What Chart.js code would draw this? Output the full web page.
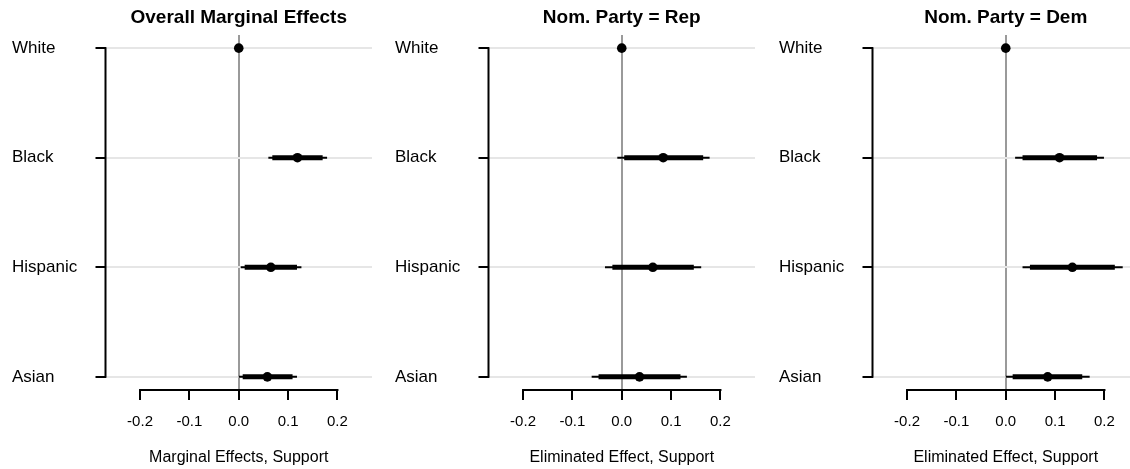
<!DOCTYPE html>
<html lang="en">
<head>
    <meta charset="UTF-8">
    <title>Marginal Effects by Race</title>
    <script src="https://cdn.jsdelivr.net/npm/chart.js"></script>
    <style>
        html, body { margin: 0; padding: 0; background: #fff; overflow: hidden; }
        body { width: 1130px; height: 469px; position: relative; }
        .panel { position: absolute; top: 0; width: 384px; height: 469px; }
    </style>
</head>
<body>
    <div class="panel" style="left:0px"><canvas id="c0"></canvas></div>
    <div class="panel" style="left:383px"><canvas id="c1"></canvas></div>
    <div class="panel" style="left:767px"><canvas id="c2"></canvas></div>

    <script>
        // row labels, top to bottom
        const rows = ['White', 'Black', 'Hispanic', 'Asian'];
        const titles = ['Overall Marginal Effects', 'Nom. Party = Rep', 'Nom. Party = Dem'];
        const xTitles = ['Marginal Effects, Support', 'Eliminated Effect, Support', 'Eliminated Effect, Support'];
        const xTicks = [-0.2, -0.1, 0.0, 0.1, 0.2];

        // point estimates (White is the baseline)
        const est = [
            [0, 0.119, 0.065, 0.058],
            [0, 0.084, 0.063, 0.036],
            [0, 0.109, 0.135, 0.085]
        ];
        // thick interval
        const innerLo = [
            [null, 0.068, 0.012, 0.008],
            [null, 0.005, -0.019, -0.047],
            [null, 0.034, 0.049, 0.014]
        ];
        const innerHi = [
            [null, 0.170, 0.118, 0.109],
            [null, 0.165, 0.146, 0.119],
            [null, 0.185, 0.221, 0.155]
        ];
        // thin interval
        const outerLo = [
            [null, 0.060, 0.004, 0.000],
            [null, -0.009, -0.034, -0.061],
            [null, 0.019, 0.034, 0.000]
        ];
        const outerHi = [
            [null, 0.179, 0.127, 0.118],
            [null, 0.178, 0.161, 0.132],
            [null, 0.199, 0.237, 0.170]
        ];

        const font = '"Liberation Sans", Arial, Helvetica, sans-serif';

        // R-style axis lines that only span the ticks, plus the panel title
        const rAxes = {
            id: 'rAxes',
            afterDraw(chart, args, opts) {
                const ctx = chart.ctx;
                const x = chart.scales.x, y = chart.scales.y;
                const area = chart.chartArea;
                ctx.save();
                ctx.strokeStyle = '#000';
                ctx.lineWidth = 2;
                ctx.beginPath();
                ctx.moveTo(x.getPixelForValue(xTicks[0]) - 1, area.bottom);
                ctx.lineTo(x.getPixelForValue(xTicks[xTicks.length - 1]) + 1, area.bottom);
                ctx.moveTo(area.left, y.getPixelForValue(1) - 1);
                ctx.lineTo(area.left, y.getPixelForValue(rows.length) + 1);
                ctx.stroke();
                ctx.fillStyle = '#000';
                ctx.font = 'bold 19px ' + font;
                ctx.textAlign = 'center';
                ctx.textBaseline = 'alphabetic';
                ctx.fillText(opts.text, (area.left + area.right) / 2, 23);
                ctx.restore();
            }
        };

        function makePanel(i) {
            const datasets = [];
            for (let r = 0; r < rows.length; r++) {
                if (outerLo[i][r] === null) continue;
                datasets.push({
                    type: 'line',
                    data: [{x: outerLo[i][r], y: r + 1}, {x: outerHi[i][r], y: r + 1}],
                    borderColor: '#000',
                    borderWidth: 2,
                    borderCapStyle: 'butt',
                    pointRadius: 0
                });
            }
            for (let r = 0; r < rows.length; r++) {
                if (innerLo[i][r] === null) continue;
                datasets.push({
                    type: 'line',
                    data: [{x: innerLo[i][r], y: r + 1}, {x: innerHi[i][r], y: r + 1}],
                    borderColor: '#000',
                    borderWidth: 5,
                    borderCapStyle: 'butt',
                    pointRadius: 0
                });
            }
            datasets.push({
                type: 'scatter',
                data: est[i].map((v, r) => ({x: v, y: r + 1})),
                backgroundColor: '#000',
                borderWidth: 0,
                pointRadius: 4.8
            });

            new Chart(document.getElementById('c' + i), {
                data: { datasets: datasets },
                plugins: [rAxes],
                options: {
                    responsive: true,
                    maintainAspectRatio: false,
                    animation: false,
                    layout: { padding: { left: 12, right: 12, top: 35, bottom: 0 } },
                    plugins: {
                        legend: { display: false },
                        tooltip: { enabled: false },
                        rAxes: { text: titles[i] }
                    },
                    scales: {
                        x: {
                            type: 'linear',
                            min: -0.27,
                            max: 0.27,
                            afterBuildTicks: (s) => { s.ticks = xTicks.map(v => ({value: v})); },
                            afterFit: (s) => { s.height = 79; },
                            border: { display: false },
                            grid: {
                                drawOnChartArea: true,
                                color: (c) => (c.tick && Math.abs(c.tick.value) < 1e-9) ? '#9a9a9a' : 'rgba(0,0,0,0)',
                                lineWidth: 2,
                                tickColor: '#000',
                                tickWidth: 2,
                                tickLength: 10
                            },
                            ticks: {
                                color: '#000',
                                font: { family: font, size: 15 },
                                padding: 13,
                                maxRotation: 0,
                                callback: (v) => Number(v).toFixed(1)
                            },
                            title: {
                                display: true,
                                text: xTitles[i],
                                color: '#000',
                                font: { family: font, size: 16 },
                                padding: { top: 0, bottom: 2 }
                            }
                        },
                        y: {
                            type: 'linear',
                            reverse: true,
                            min: 0.88,
                            max: rows.length + 0.12,
                            afterBuildTicks: (s) => { s.ticks = rows.map((_, r) => ({value: r + 1})); },
                            afterFit: (s) => { s.width = 93.5; },
                            border: { display: false },
                            grid: {
                                color: '#e6e6e6',
                                lineWidth: 2,
                                tickColor: '#000',
                                tickWidth: 2,
                                tickLength: 10
                            },
                            ticks: {
                                color: '#000',
                                font: { family: font, size: 17 },
                                crossAlign: 'far',
                                callback: (v) => rows[Math.round(v) - 1]
                            }
                        }
                    }
                }
            });
        }

        for (let i = 0; i < 3; i++) makePanel(i);
    </script>
</body>
</html>
